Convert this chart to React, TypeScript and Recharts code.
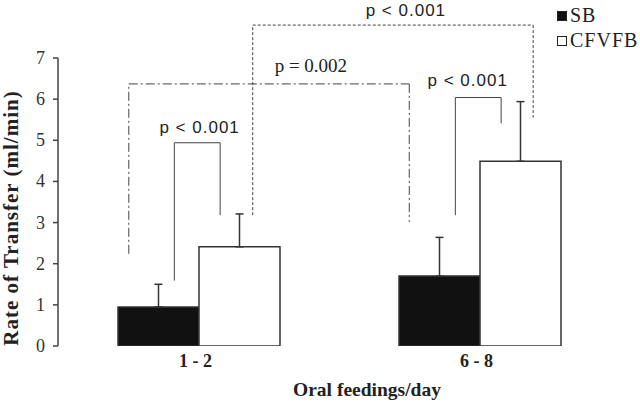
import React from 'react';
import {
  ComposedChart,
  Bar,
  XAxis,
  YAxis,
  ErrorBar,
  ReferenceLine,
  ReferenceDot
} from 'recharts';

const groups = ['1 - 2', '6 - 8'];
const sbMeans = [0.95, 1.7];
const sbErrors = [0.55, 0.94];
const cfvfbMeans = [2.41, 4.49];
const cfvfbErrors = [0.8, 1.45];
const yTicks = [0, 1, 2, 3, 4, 5, 6, 7];

// significance brackets, x as share of the plot width (0..1), y in ml/min
const bracketXs = [[0.207, 0.2885], [0.126, 0.625], [0.3465, 0.8455], [0.707, 0.7885]];
const bracketTops = [4.94, 6.37, 7.8, 6.04];
const bracketFeet = [[1.59, 3.18], [2.24, 3.02], [3.18, 5.55], [3.18, 5.41]];
const bracketDash = ['', '9 3 2 3', '3 2', ''];
const pTexts = ['p < 0.001', 'p = 0.002', 'p < 0.001', 'p < 0.001'];
const pTextX = [0.252, 0.45, 0.619, 0.729];
const pTextY = [5.32, 6.81, 8.15, 6.45];
const pTextSerif = [false, true, false, false];

const SERIF = '"Liberation Serif", "Times New Roman", serif';
const SANS = '"Liberation Sans", Arial, sans-serif';

const data = groups.map((g, i) => ({
  group: g,
  sb: sbMeans[i],
  sbErr: [0, sbErrors[i]],
  cfvfb: cfvfbMeans[i],
  cfvfbErr: [0, cfvfbErrors[i]]
}));

const legendItems = [
  { name: 'SB', fill: '#111' },
  { name: 'CFVFB', fill: '#fff' }
];

const YTick = ({ x, y, payload }: any) => (
  <text x={x} y={y} textAnchor="end" dominantBaseline="central" style={{ fontFamily: SERIF, fontSize: 18, fill: '#333' }}>
    {payload.value}
  </text>
);

const XTick = ({ x, y, payload }: any) => (
  <text x={x - 3} y={y + 13} textAnchor="middle" style={{ fontFamily: SERIF, fontWeight: 'bold', fontSize: 18, fill: '#222' }}>
    {payload.value}
  </text>
);

const YLabel = ({ viewBox }: any) => {
  const cx = viewBox.x + 11;
  const cy = viewBox.y + viewBox.height / 2 + 16;
  return (
    <text
      x={cx}
      y={cy}
      transform={`rotate(-90, ${cx}, ${cy})`}
      textAnchor="middle"
      dominantBaseline="central"
      style={{ fontFamily: SERIF, fontWeight: 'bold', fontSize: 21, letterSpacing: 1, fill: '#222' }}
    >
      Rate of Transfer (ml/min)
    </text>
  );
};

const XLabel = ({ viewBox }: any) => (
  <text
    x={viewBox.x + viewBox.width / 2 + 28}
    y={396}
    textAnchor="middle"
    style={{ fontFamily: SERIF, fontWeight: 'bold', fontSize: 19.5, fill: '#222' }}
  >
    Oral feedings/day
  </text>
);

const PLabel = ({ viewBox, value, serif }: any) => (
  <text
    x={viewBox.x + viewBox.width / 2}
    y={viewBox.y + viewBox.height / 2}
    textAnchor="middle"
    dominantBaseline="central"
    style={{
      fontFamily: serif ? SERIF : SANS,
      fontSize: serif ? 19 : 17,
      letterSpacing: serif ? 0 : 1,
      fill: '#222'
    }}
  >
    {value}
  </text>
);

const App: React.FC = () => {
  const brackets = bracketXs.map(([xl, xr], i) => {
    const top = bracketTops[i];
    const [fl, fr] = bracketFeet[i];
    const common = {
      xAxisId: 'n',
      stroke: '#444',
      strokeWidth: 1,
      strokeDasharray: bracketDash[i] || undefined,
      ifOverflow: 'visible' as const
    };
    return (
      <React.Fragment key={`br-${i}`}>
        <ReferenceLine {...common} segment={[{ x: xl, y: fl }, { x: xl, y: top }]} />
        <ReferenceLine {...common} segment={[{ x: xl, y: top }, { x: xr, y: top }]} />
        <ReferenceLine {...common} segment={[{ x: xr, y: top }, { x: xr, y: fr }]} />
      </React.Fragment>
    );
  });

  return (
    <div style={{ position: 'absolute', left: 0, top: 0, width: 640, height: 408, background: '#fff' }}>
      <ComposedChart
        width={640}
        height={408}
        data={data}
        margin={{ top: 58, right: 20, bottom: 0, left: 0 }}
        barCategoryGap={60}
        barGap={0}
      >
        <XAxis
          xAxisId="n"
          type="number"
          domain={[0, 1]}
          allowDataOverflow
          ticks={[0, 0.5, 1]}
          tick={false}
          height={0}
          tickSize={5}
          axisLine={{ stroke: '#444', strokeWidth: 1.5 }}
          tickLine={{ stroke: '#444', strokeWidth: 1.5 }}
        />
        <XAxis
          xAxisId="cat"
          dataKey="group"
          height={62}
          axisLine={false}
          tickLine={false}
          tick={<XTick />}
          label={{ content: <XLabel /> }}
        />
        <YAxis
          width={58}
          domain={[0, 7]}
          ticks={yTicks}
          allowDataOverflow
          tickSize={5}
          tickMargin={8}
          axisLine={{ stroke: '#444', strokeWidth: 1.5 }}
          tickLine={{ stroke: '#444', strokeWidth: 1.5 }}
          tick={<YTick />}
          label={{ content: <YLabel /> }}
        />
        <Bar xAxisId="cat" dataKey="sb" fill="#111" stroke="#333" strokeWidth={1.5} isAnimationActive={false}>
          <ErrorBar dataKey="sbErr" direction="y" width={4} stroke="#333" strokeWidth={1.5} />
        </Bar>
        <Bar xAxisId="cat" dataKey="cfvfb" fill="#fff" stroke="#333" strokeWidth={1.5} isAnimationActive={false}>
          <ErrorBar dataKey="cfvfbErr" direction="y" width={4} stroke="#333" strokeWidth={1.5} />
        </Bar>
        {brackets}
        {pTexts.map((t, i) => (
          <ReferenceDot
            key={`pt-${i}`}
            xAxisId="n"
            x={pTextX[i]}
            y={pTextY[i]}
            r={1}
            fill="none"
            stroke="none"
            ifOverflow="visible"
            label={{ content: <PLabel value={t} serif={pTextSerif[i]} /> }}
          />
        ))}
      </ComposedChart>
      {/* legend */}
      <div style={{ position: 'absolute', left: 557, top: 3, fontFamily: SERIF, fontSize: 20, letterSpacing: 1, color: '#222' }}>
        {legendItems.map(item => (
          <div key={item.name} style={{ display: 'flex', alignItems: 'center', height: 25, lineHeight: '25px' }}>
            <span
              style={{
                display: 'inline-block',
                width: 8,
                height: 8,
                background: item.fill,
                border: '1px solid #222',
                marginRight: 3
              }}
            />
            <span>{item.name}</span>
          </div>
        ))}
      </div>
    </div>
  );
};

export default App;
